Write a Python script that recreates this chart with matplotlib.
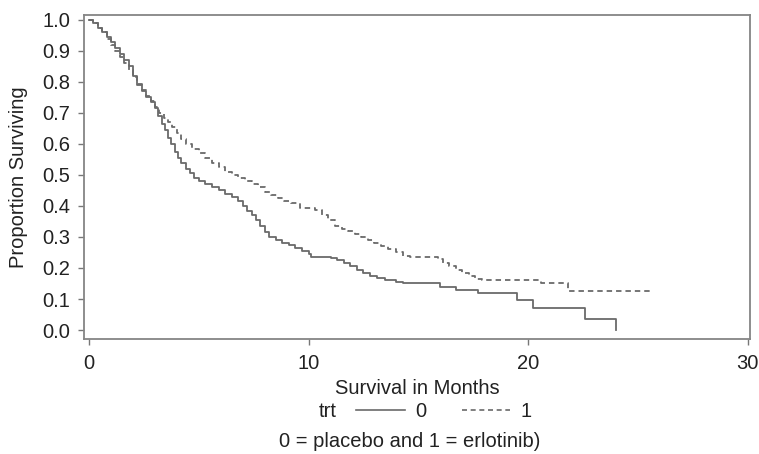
import matplotlib
matplotlib.use('Agg')
import matplotlib.pyplot as plt
from matplotlib.lines import Line2D

# Kaplan-Meier estimates (months, proportion surviving)
time_placebo = [0, 0.2, 0.4, 0.6, 0.8, 1.0, 1.2, 1.4, 1.6, 1.8, 2.0, 2.2, 2.4,
                2.6, 2.8, 3.0, 3.15, 3.3, 3.45, 3.6, 3.75, 3.9, 4.05, 4.2, 4.4,
                4.6, 4.8, 5.0, 5.3, 5.6, 5.9, 6.2, 6.5, 6.8, 7.0, 7.2, 7.4, 7.6,
                7.8, 8.0, 8.2, 8.5, 8.8, 9.1, 9.4, 9.7, 10.0, 10.1, 11.0, 11.3,
                11.6, 11.9, 12.2, 12.5, 12.8, 13.1, 13.5, 14.0, 14.3, 16.0, 16.7,
                17.7, 19.5, 20.2, 22.6, 24.0]
surv_placebo = [1.0, 0.99, 0.975, 0.96, 0.945, 0.93, 0.91, 0.89, 0.87, 0.85,
                0.82, 0.79, 0.77, 0.75, 0.735, 0.715, 0.69, 0.665, 0.645, 0.62,
                0.60, 0.575, 0.555, 0.54, 0.52, 0.505, 0.49, 0.48, 0.47, 0.46,
                0.45, 0.44, 0.43, 0.415, 0.40, 0.385, 0.37, 0.355, 0.335, 0.315,
                0.30, 0.29, 0.28, 0.275, 0.265, 0.255, 0.245, 0.237, 0.232,
                0.225, 0.215, 0.205, 0.195, 0.185, 0.175, 0.168, 0.16, 0.155,
                0.15, 0.14, 0.13, 0.12, 0.097, 0.07, 0.035, 0.0]

time_erlotinib = [0, 0.2, 0.4, 0.6, 0.8, 1.0, 1.2, 1.4, 1.6, 1.8, 2.0, 2.2, 2.4,
                  2.6, 2.8, 3.0, 3.2, 3.4, 3.6, 3.8, 4.0, 4.2, 4.4, 4.7, 5.0,
                  5.3, 5.6, 5.9, 6.2, 6.5, 6.8, 7.1, 7.4, 7.7, 8.0, 8.3, 8.6,
                  8.9, 9.2, 9.6, 10.3, 10.6, 10.9, 11.2, 11.5, 11.8, 12.1, 12.4,
                  12.7, 13.0, 13.3, 13.6, 14.0, 14.3, 14.6, 15.9, 16.1, 16.4,
                  16.7, 17.0, 17.3, 17.6, 17.9, 20.6, 21.8, 25.7]
surv_erlotinib = [1.0, 0.99, 0.975, 0.96, 0.94, 0.92, 0.90, 0.88, 0.86, 0.84,
                  0.815, 0.795, 0.775, 0.755, 0.74, 0.72, 0.70, 0.685, 0.67,
                  0.655, 0.635, 0.615, 0.60, 0.585, 0.57, 0.555, 0.54, 0.525,
                  0.51, 0.50, 0.49, 0.48, 0.47, 0.46, 0.445, 0.435, 0.425, 0.415,
                  0.41, 0.395, 0.387, 0.37, 0.355, 0.335, 0.325, 0.318, 0.31,
                  0.30, 0.29, 0.28, 0.27, 0.26, 0.25, 0.24, 0.235, 0.228, 0.215,
                  0.205, 0.195, 0.185, 0.175, 0.165, 0.16, 0.15, 0.125, 0.125]

x_ticks = [0, 10, 20, 30]
y_ticks = [i / 10 for i in range(11)]

plt.rcParams['font.family'] = ['Liberation Sans', 'DejaVu Sans']
plt.rcParams['font.size'] = 14

line_col = '#6a6a6a'
text_col = '#222222'
dash = (0, (3.0, 2.2))

fig = plt.figure(figsize=(7.59, 4.54), dpi=100)
ax = fig.add_axes([0.1107, 0.2533, 0.8773, 0.7137])

ax.step(time_placebo, surv_placebo, where='post', color=line_col, lw=1.3,
        linestyle='-')
ax.step(time_erlotinib, surv_erlotinib, where='post', color=line_col, lw=1.3,
        linestyle=dash)

ax.set_xlim(-0.23, 30.1)
ax.set_ylim(-0.029, 1.016)
ax.set_xticks(x_ticks)
ax.set_yticks(y_ticks)
ax.set_yticklabels([f'{v:.1f}' for v in y_ticks])
ax.tick_params(colors='#777777', labelcolor=text_col, length=4, width=1,
               labelsize=14.5)
ax.tick_params(axis='x', pad=7)
ax.tick_params(axis='y', pad=6)
for s in ax.spines.values():
    s.set_color('#858585')
    s.set_linewidth(1.3)

ax.set_xlabel('Survival in Months', color=text_col, fontsize=14.5, labelpad=4)
ax.set_ylabel('Proportion Surviving', color=text_col, fontsize=14.5,
              labelpad=10)

handles = [Line2D([], [], color=line_col, lw=1.2, linestyle='-'),
           Line2D([], [], color=line_col, lw=1.2, linestyle=dash)]
fig.legend(handles, ['0', '1'], loc='center', bbox_to_anchor=(0.585, 0.094),
           ncol=2, frameon=False, fontsize=14.5, handlelength=2.4,
           handletextpad=0.5, columnspacing=1.8, labelcolor=text_col)
fig.text(0.432, 0.094, 'trt', ha='center', va='center', fontsize=14.5,
         color=text_col)
fig.text(0.54, 0.028, '0 = placebo and 1 = erlotinib)', ha='center',
         va='center', fontsize=14.5, color=text_col)

fig.savefig('out.png', dpi=100)
